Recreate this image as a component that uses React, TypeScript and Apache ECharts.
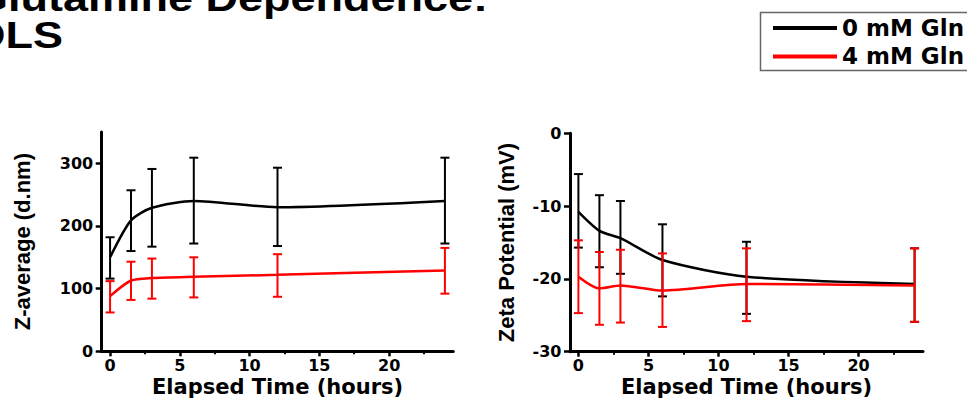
import React, { useEffect, useRef } from "react";
import * as echarts from "echarts";

const times = [0, 1.5, 3, 6, 12, 24];
const seriesNames = ["0 mM Gln", "4 mM Gln"];
const seriesColors = ["#000000", "#ff0000"];

const zAvg0 = [150, 209, 229, 240, 230, 240];
const zAvg0Low = [116, 160, 167, 172, 168, 172];
const zAvg0High = [182, 257, 291, 309, 293, 309];
const zAvg4 = [88, 113, 117, 119, 122, 129];
const zAvg4Low = [62, 82, 84, 86, 87, 92];
const zAvg4High = [112, 143, 148, 150, 155, 165];

const zeta0 = [-10.8, -13.4, -14.4, -17.4, -19.7, -20.7];
const zeta0Low = [-15.7, -18.4, -19.3, -22.4, -24.8, -25.9];
const zeta0High = [-5.6, -8.5, -9.3, -12.5, -14.9, -15.8];
const zeta4 = [-19.7, -21.3, -20.9, -21.6, -20.7, -20.9];
const zeta4Low = [-24.7, -26.3, -26, -26.6, -25.8, -25.9];
const zeta4High = [-14.7, -16.3, -16, -16.5, -15.8, -15.8];

const xTicks = [0, 5, 10, 15, 20];
const xMinorTicks = [2.5, 7.5, 12.5, 17.5, 22.5];
const zTicks = [0, 100, 200, 300];
const zetaTicks = [-30, -20, -10, 0];

const titleLines = ["Glutamine Dependence:", "DLS"];
const xName = "Elapsed Time (hours)";
const yNames = ["Z-average (d.nm)", "Zeta Potential (mV)"];

const WIDE = '"DejaVu Sans", Arial, sans-serif';
const ARIAL = '"Liberation Sans", Arial, sans-serif';

function pairs(xs: number[], ys: number[]) {
  return xs.map((x, i) => [x, ys[i]]);
}
function triples(xs: number[], lo: number[], hi: number[]) {
  return xs.map((x, i) => [x, lo[i], hi[i]]);
}

function errRender(color: string) {
  return (params: any, api: any) => {
    const x = api.value(0);
    const pLo = api.coord([x, api.value(1)]);
    const pHi = api.coord([x, api.value(2)]);
    const hw = 4.5;
    const style = { stroke: color, lineWidth: 2 };
    return {
      type: "group",
      children: [
        { type: "line", shape: { x1: pLo[0], y1: pLo[1], x2: pHi[0], y2: pHi[1] }, style },
        { type: "line", shape: { x1: pLo[0] - hw, y1: pLo[1], x2: pLo[0] + hw, y2: pLo[1] }, style },
        { type: "line", shape: { x1: pHi[0] - hw, y1: pHi[1], x2: pHi[0] + hw, y2: pHi[1] }, style },
      ],
    };
  };
}

const X_MIN = -0.6;
const X_MAX = 24.6;

function mainX(gridIndex: number) {
  return {
    type: "value",
    gridIndex,
    position: "bottom",
    min: X_MIN,
    max: X_MAX,
    axisLine: { show: true, onZero: false, lineStyle: { color: "#000", width: 3 } },
    axisTick: { show: true, customValues: xTicks, length: 5, lineStyle: { color: "#000", width: 2.5 } },
    axisLabel: {
      show: true,
      customValues: xTicks,
      margin: 8,
      lineHeight: 12,
      color: "#000",
      fontFamily: WIDE,
      fontWeight: "bold",
      fontSize: 16,
    },
    splitLine: { show: false },
    name: xName,
    nameLocation: "middle",
    nameGap: 27.6,
    nameMoveOverlap: false,
    nameTextStyle: { color: "#000", fontFamily: WIDE, fontWeight: "bold", fontSize: 21, lineHeight: 16 },
  };
}

function minorX(gridIndex: number) {
  return {
    type: "value",
    gridIndex,
    position: "bottom",
    min: X_MIN,
    max: X_MAX,
    axisLine: { show: false, onZero: false },
    axisTick: { show: true, customValues: xMinorTicks, length: 3, lineStyle: { color: "#000", width: 2 } },
    axisLabel: { show: false },
    splitLine: { show: false },
  };
}

function yAx(gridIndex: number, min: number, max: number, ticks: number[], name: string, gap: number) {
  return {
    type: "value",
    gridIndex,
    min,
    max,
    axisLine: { show: true, onZero: false, lineStyle: { color: "#000", width: 3 } },
    axisTick: { show: true, customValues: ticks, length: 6, lineStyle: { color: "#000", width: 2.5 } },
    axisLabel: {
      show: true,
      customValues: ticks,
      margin: 8.5,
      color: "#000",
      fontFamily: WIDE,
      fontWeight: "bold",
      fontSize: 16,
    },
    splitLine: { show: false },
    name,
    nameLocation: "middle",
    nameGap: gap,
    nameRotate: 90,
    nameMoveOverlap: false,
    nameTextStyle: { color: "#000", fontFamily: ARIAL, fontWeight: "bold", fontSize: 22 },
  };
}

function lineSeries(name: string, color: string, xIdx: number, yIdx: number, data: number[][], z: number) {
  return {
    type: "line",
    name,
    xAxisIndex: xIdx,
    yAxisIndex: yIdx,
    data,
    symbol: "none",
    showSymbol: false,
    smooth: 0.25,
    color,
    itemStyle: { color },
    lineStyle: { color, width: 2.5 },
    z,
  };
}

function errSeries(name: string, color: string, xIdx: number, yIdx: number, data: number[][], z: number) {
  return {
    type: "custom",
    name,
    xAxisIndex: xIdx,
    yAxisIndex: yIdx,
    data,
    encode: { x: 0, y: [1, 2] },
    renderItem: errRender(color),
    silent: true,
    z,
  };
}

export default function App() {
  const ref = useRef<HTMLDivElement>(null);
  useEffect(() => {
    if (!ref.current) return;
    const chart = echarts.init(ref.current, null, { renderer: "svg" });
    const option: any = {
      animation: false,
      backgroundColor: "#ffffff",
      grid: [
        { left: 101.7, top: 132, width: 351.6, height: 219.3, containLabel: false, outerBoundsMode: "none" },
        { left: 570, top: 133.3, width: 353, height: 218.4, containLabel: false, outerBoundsMode: "none" },
      ],
      xAxis: [mainX(0), mainX(1), minorX(0), minorX(1)],
      yAxis: [
        yAx(0, 0, 350, zTicks, yNames[0], 68),
        yAx(1, -30, 0, zetaTicks, yNames[1], 53),
      ],
      legend: {
        show: true,
        orient: "vertical",
        left: 760,
        top: 12,
        padding: [4, 10, 2, 13],
        itemGap: 4.4,
        itemWidth: 64,
        itemHeight: 4,
        borderWidth: 0,
        selectedMode: false,
        data: seriesNames.map((n) => ({ name: n, icon: "rect" })),
        textStyle: { color: "#000", fontFamily: WIDE, fontWeight: "bold", fontSize: 23, lineHeight: 24 },
      },
      graphic: [
        {
          type: "rect",
          z: -1,
          shape: { x: 760.5, y: 12.5, width: 260, height: 58 },
          style: { fill: "#fff", stroke: "#666", lineWidth: 1.5 },
          silent: true,
        },
        {
          type: "text",
          x: -27,
          y: -1.5,
          scaleX: 1.25,
          style: {
            text: titleLines[0],
            fontFamily: ARIAL,
            fontWeight: "bold",
            fontSize: 36,
            fill: "#000",
            align: "left",
            verticalAlign: "middle",
          },
        },
        {
          type: "text",
          x: -27,
          y: 35.3,
          scaleX: 1.25,
          style: {
            text: titleLines[1],
            fontFamily: ARIAL,
            fontWeight: "bold",
            fontSize: 36,
            fill: "#000",
            align: "left",
            verticalAlign: "middle",
          },
        },
      ],
      series: [
        errSeries("err0a", seriesColors[0], 0, 0, triples(times, zAvg0Low, zAvg0High), 2),
        lineSeries(seriesNames[0], seriesColors[0], 0, 0, pairs(times, zAvg0), 3),
        errSeries("err4a", seriesColors[1], 0, 0, triples(times, zAvg4Low, zAvg4High), 4),
        lineSeries(seriesNames[1], seriesColors[1], 0, 0, pairs(times, zAvg4), 5),
        errSeries("err0b", seriesColors[0], 1, 1, triples(times, zeta0Low, zeta0High), 2),
        lineSeries(seriesNames[0], seriesColors[0], 1, 1, pairs(times, zeta0), 3),
        errSeries("err4b", seriesColors[1], 1, 1, triples(times, zeta4Low, zeta4High), 4),
        lineSeries(seriesNames[1], seriesColors[1], 1, 1, pairs(times, zeta4), 5),
      ],
    };
    chart.setOption(option);
    return () => chart.dispose();
  }, []);
  return (
    <div
      ref={ref}
      style={{ position: "absolute", left: 0, top: 0, width: 967, height: 398, background: "#fff" }}
    />
  );
}
